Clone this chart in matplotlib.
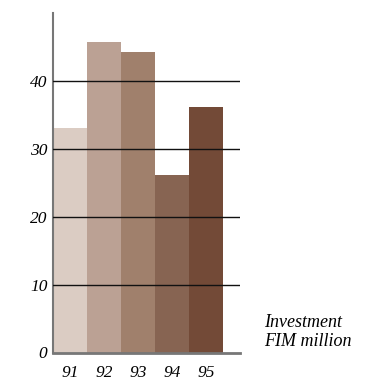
import numpy as np
import matplotlib.pyplot as plt

# Investment by year, FIM million
years = ['91', '92', '93', '94', '95']
investment = [33.1, 45.7, 44.3, 26.1, 36.2]
bar_colors = ['#dbccc3', '#bba194', '#a0806c', '#876452', '#734a37']
y_ticks = [0, 10, 20, 30, 40]

fig = plt.figure(figsize=(3.78, 3.80), dpi=100)
ax = fig.add_axes([53 / 378, 27.5 / 380, 187 / 378, 339.5 / 380])

x = np.arange(len(years))
ax.bar(x + 0.5, investment, width=1.0, color=bar_colors, zorder=1)

# horizontal reference lines drawn over the bars
for v in y_ticks[1:]:
    ax.axhline(v, color='#111111', lw=1.0, zorder=3)

ax.set_xlim(0, 5.5)
ax.set_ylim(0, 50)

for side in ['top', 'right']:
    ax.spines[side].set_visible(False)
ax.spines['left'].set_color('#777777')
ax.spines['left'].set_linewidth(1.5)
ax.spines['bottom'].set_color('#777777')
ax.spines['bottom'].set_linewidth(2)

font = dict(family='Liberation Serif', style='italic', size=12.5)
ax.set_yticks(y_ticks)
ax.set_yticklabels(y_ticks, **font)
ax.set_xticks(x + 0.5)
ax.set_xticklabels(years, **font)
ax.tick_params(axis='both', length=0)
ax.tick_params(axis='y', pad=4)
ax.tick_params(axis='x', pad=9)

fig.text(264 / 378, 1 - 332 / 380, 'Investment\nFIM million', ha='left', va='center',
         family='Liberation Serif', style='italic', size=13, linespacing=1.2)

fig.savefig('out.png', dpi=100)
